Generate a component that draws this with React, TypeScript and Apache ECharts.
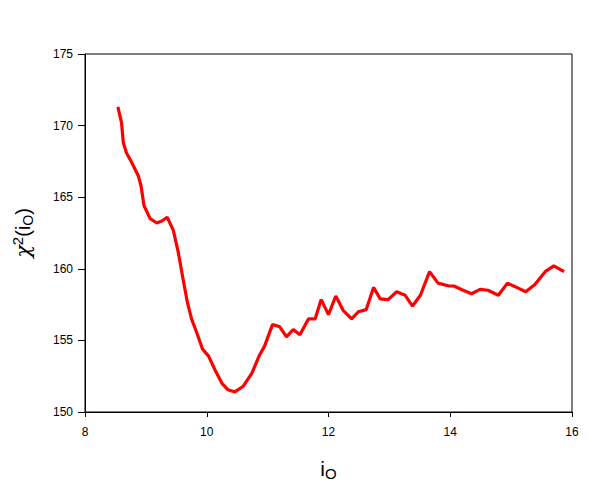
import React, { useEffect, useRef } from "react";
import * as echarts from "echarts";

const xValues = [
  8.54, 8.6, 8.63, 8.68, 8.77, 8.875, 8.92, 8.97, 9.07, 9.18, 9.27, 9.35, 9.45, 9.53, 9.61, 9.68,
  9.75, 9.83, 9.93, 10.03, 10.14, 10.25, 10.35, 10.46, 10.6, 10.74, 10.87, 10.95, 11.08, 11.2,
  11.31, 11.42, 11.53, 11.67, 11.78, 11.88, 12.0, 12.12, 12.24, 12.38, 12.49, 12.62, 12.74, 12.85,
  12.98, 13.12, 13.26, 13.38, 13.51, 13.66, 13.8, 13.98, 14.06, 14.21, 14.35, 14.49, 14.62, 14.79,
  14.94, 15.09, 15.24, 15.39, 15.56, 15.7, 15.87,
];
const chiValues = [
  171.3, 170.2, 168.8, 168.1, 167.4, 166.5, 165.8, 164.4, 163.5, 163.2, 163.35, 163.6, 162.7, 161.2,
  159.3, 157.7, 156.5, 155.6, 154.4, 153.9, 152.9, 152.0, 151.55, 151.4, 151.8, 152.7, 154.0, 154.6,
  156.1, 155.95, 155.25, 155.76, 155.4, 156.5, 156.5, 157.85, 156.8, 158.1, 157.1, 156.5, 157.0,
  157.15, 158.7, 157.9, 157.85, 158.4, 158.15, 157.4, 158.15, 159.8, 159.0, 158.8, 158.8, 158.5,
  158.26, 158.56, 158.5, 158.15, 159.0, 158.7, 158.4, 158.9, 159.8, 160.2, 159.8,
];
const xTicks = { min: 8, max: 16, interval: 2 };
const yTicks = { min: 150, max: 175, interval: 5 };

const FONT = "Liberation Sans, Arial, sans-serif";

export default function App() {
  const ref = useRef<HTMLDivElement>(null);
  useEffect(() => {
    if (!ref.current) return;
    const chart = echarts.init(ref.current, undefined, { renderer: "svg" });
    chart.setOption({
      animation: false,
      backgroundColor: "#ffffff",
      grid: {
        left: 85,
        right: 28,
        top: 54,
        bottom: 72,
        show: true,
        borderColor: "#000",
        borderWidth: 1,
        backgroundColor: "transparent",
      },
      xAxis: {
        type: "value",
        min: xTicks.min,
        max: xTicks.max,
        interval: xTicks.interval,
        splitLine: { show: false },
        axisLine: { lineStyle: { color: "#000", width: 1 } },
        axisTick: { show: true, inside: false, length: 5, lineStyle: { color: "#000" } },
        axisLabel: { color: "#000", fontSize: 12, fontFamily: FONT, margin: 14 },
        name: "{n|i}{sub|O}",
        nameLocation: "middle",
        nameGap: 44,
        nameTextStyle: {
          rich: {
            n: { fontSize: 21, fontFamily: FONT, color: "#000" },
            sub: { fontSize: 15, fontFamily: FONT, color: "#000", padding: [10, 0, 0, 0] },
          },
        },
      },
      yAxis: {
        type: "value",
        min: yTicks.min,
        max: yTicks.max,
        interval: yTicks.interval,
        splitLine: { show: false },
        axisLine: { show: true, lineStyle: { color: "#000", width: 1 } },
        axisTick: { show: true, inside: false, length: 7, lineStyle: { color: "#000" } },
        axisLabel: { color: "#000", fontSize: 12, fontFamily: FONT, margin: 12 },
        name: "{g|χ}{sup|2}{n|(i}{sub|O}{n|)}",
        nameLocation: "middle",
        nameGap: 50,
        nameRotate: 90,
        nameTextStyle: {
          rich: {
            g: { fontSize: 21, fontFamily: "DejaVu Serif, serif", fontStyle: "italic", color: "#000" },
            n: { fontSize: 20, fontFamily: FONT, color: "#000" },
            sup: { fontSize: 15, fontFamily: FONT, color: "#000", padding: [0, 0, 10, 0] },
            sub: { fontSize: 14, fontFamily: FONT, color: "#000", padding: [10, 0, 0, 0] },
          },
        },
      },
      series: [
        {
          type: "line",
          data: xValues.map((x, i) => [x, chiValues[i]]),
          showSymbol: false,
          symbol: "none",
          lineStyle: { color: "#ff0000", width: 3.2 },
          itemStyle: { color: "#ff0000" },
        },
      ],
    });
    return () => chart.dispose();
  }, []);
  return (
    <div
      ref={ref}
      style={{ position: "fixed", left: 0, top: 0, width: 600, height: 486 }}
    />
  );
}
